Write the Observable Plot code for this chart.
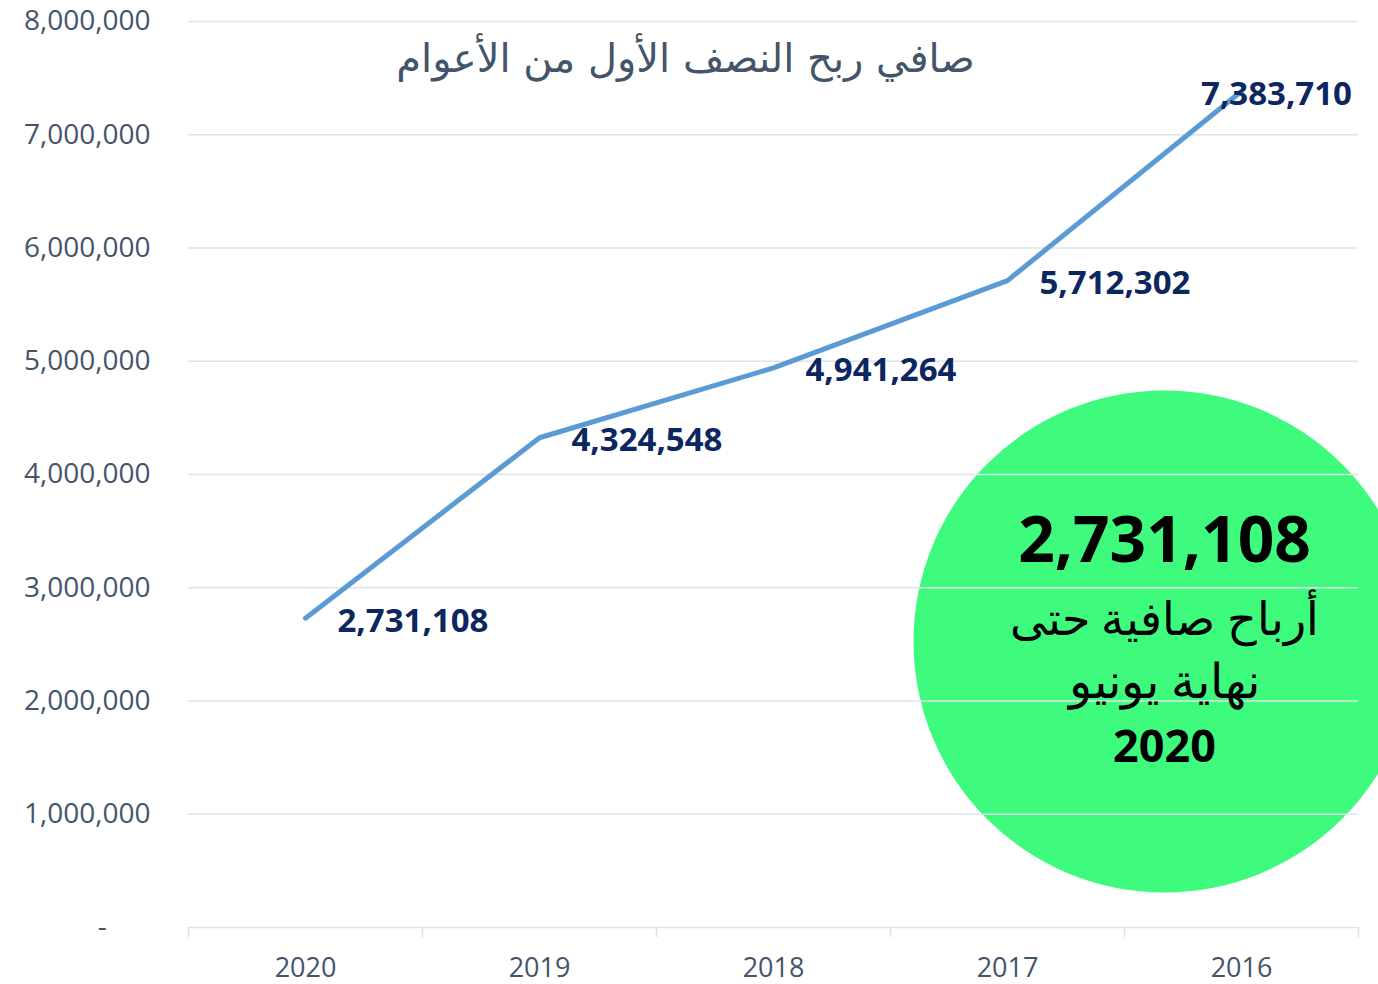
<!DOCTYPE html>
<html>
<head>
<meta charset="utf-8">
<script src="https://cdn.jsdelivr.net/npm/d3@7"></script>
<script src="https://cdn.jsdelivr.net/npm/@observablehq/plot@0.6"></script>
<style>
  html, body { margin: 0; padding: 0; background: #ffffff; }
  #chart svg { display: block; }
</style>
</head>
<body>
<div id="chart"></div>
<script>
// ---- data ----
const years = ["2020", "2019", "2018", "2017", "2016"];
const profits = [2731108, 4324548, 4941264, 5712302, 7383710];
const yTicks = [0, 1000000, 2000000, 3000000, 4000000, 5000000, 6000000, 7000000, 8000000];
const title = "صافي ربح النصف الأول من الأعوام";
const badgeCaption = ["أرباح صافية حتى", "نهاية يونيو"];
const badgeYear = "2020";

// ---- build ----
const data = years.map((year, i) => ({i, year, value: profits[i]}));
const boundaries = d3.range(years.length + 1).map(i => i - 0.5);
const fmt = d3.format(",");

const gridColor = "#dde3ea";
const axisColor = "#44546a";
const labelColor = "#0c2660";
const nb = "\u00a0";

const plot = Plot.plot({
  width: 1378,
  height: 984,
  marginLeft: 188,
  marginRight: 20,
  marginTop: 21,
  marginBottom: 57,
  style: {fontFamily: "'Open Sans', sans-serif", background: "#ffffff"},
  x: {type: "linear", domain: [-0.5, years.length - 0.5], axis: null},
  y: {domain: [0, 8000000], axis: null},
  marks: [
    // highlight badge circle
    Plot.dot([badgeYear], {frameAnchor: "bottom-right", dx: -194, dy: -286, r: 251, fill: "#3efa7d", stroke: null}),
    // grid (drawn on top of badge)
    Plot.ruleY(yTicks, {stroke: gridColor, strokeWidth: 1.6}),
    // y axis labels
    Plot.axisY(yTicks, {
      label: null, tickSize: 0, tickPadding: 38, fontSize: 28, color: axisColor,
      tickFormat: d => d === 0 ? "-" + nb.repeat(6) : fmt(d)
    }),
    // x tick marks at band boundaries
    Plot.axisX(boundaries, {label: null, tickSize: 10, tickFormat: () => "", stroke: gridColor, strokeWidth: 1.6}),
    // x labels
    Plot.axisX(d3.range(years.length), {
      label: null, tickSize: 0, tickPadding: 30, fontSize: 27, color: axisColor,
      tickFormat: i => years[i]
    }),
    // line
    Plot.line(data, {x: "i", y: "value", stroke: "#5b9bd5", strokeWidth: 5, strokeLinecap: "round", strokeLinejoin: "round"}),
    // data labels
    Plot.text(data.slice(0, data.length - 1), {
      x: "i", y: "value", text: d => fmt(d.value), textAnchor: "start", dx: 32, dy: 3,
      fill: labelColor, fontWeight: "bold", fontSize: 33
    }),
    Plot.text(data.slice(data.length - 1), {
      x: "i", y: "value", text: d => fmt(d.value), textAnchor: "middle", dx: 35, dy: 3,
      fill: labelColor, fontWeight: "bold", fontSize: 33
    }),
    // title
    Plot.text([title], {
      frameAnchor: "top-left", lineAnchor: "middle", dx: 497, dy: 38, textAnchor: "middle",
      fill: axisColor, fontSize: 40, fontFamily: "'DejaVu Sans', sans-serif"
    }),
    // badge texts
    Plot.text([fmt(profits[0])], {
      frameAnchor: "bottom-right", dx: -194, dy: -366, textAnchor: "middle",
      fill: "#000000", fontWeight: "bold", fontSize: 64
    }),
    Plot.text([badgeCaption[0]], {
      frameAnchor: "bottom-right", dx: -194, dy: -293, textAnchor: "middle",
      fill: "#000000", fontSize: 46
    }),
    Plot.text([badgeCaption[1]], {
      frameAnchor: "bottom-right", dx: -194, dy: -230, textAnchor: "middle",
      fill: "#000000", fontSize: 48
    }),
    Plot.text([badgeYear], {
      frameAnchor: "bottom-right", dx: -194, dy: -166, textAnchor: "middle",
      fill: "#000000", fontWeight: "bold", fontSize: 45
    })
  ]
});
document.getElementById("chart").appendChild(plot);
</script>
</body>
</html>
